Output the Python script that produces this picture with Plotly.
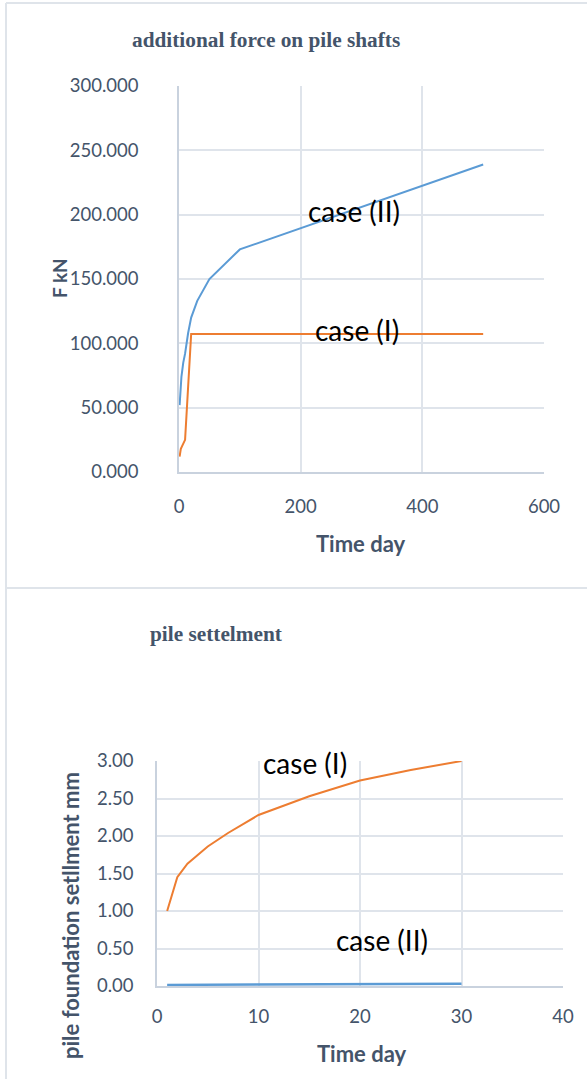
import plotly.graph_objects as go

W, H = 587, 1079

# ---- data: top chart (additional force on pile shafts) ----
force_days_case2 = [1, 2, 4, 7, 10, 15, 20, 30, 50, 100, 500]
force_case2 = [52, 64, 74, 85, 92, 108, 120, 133, 150, 173, 239]
force_days_case1 = [1, 3, 10, 20, 500]
force_case1 = [12, 18, 25, 107.3, 107.3]
force_yticks = [0, 50, 100, 150, 200, 250, 300]
force_xticks = [0, 200, 400, 600]

# ---- data: bottom chart (pile settlement) ----
settle_days_case1 = [1, 2, 3, 5, 7, 10, 15, 20, 25, 30]
settle_case1 = [1.00, 1.45, 1.63, 1.86, 2.04, 2.28, 2.53, 2.74, 2.88, 3.00]
settle_days_case2 = [1, 10, 20, 30]
settle_case2 = [0.015, 0.022, 0.027, 0.03]
settle_yticks = [0, 0.5, 1.0, 1.5, 2.0, 2.5, 3.0]
settle_xticks = [0, 10, 20, 30, 40]

BLUE = "#5b9bd5"
ORANGE = "#ed7d31"
GRID = "#dfe4eb"
TICK = "#44546a"
FONT = "Lato"


def px(x):
    return x / W


def py(y):
    return 1 - y / H


fig = go.Figure()
fig.add_trace(go.Scatter(x=force_days_case2, y=force_case2, mode="lines",
                         line=dict(color=BLUE, width=2), xaxis="x", yaxis="y",
                         showlegend=False, cliponaxis=False))
fig.add_trace(go.Scatter(x=force_days_case1, y=force_case1, mode="lines",
                         line=dict(color=ORANGE, width=2), xaxis="x", yaxis="y",
                         showlegend=False, cliponaxis=False))
fig.add_trace(go.Scatter(x=settle_days_case1, y=settle_case1, mode="lines",
                         line=dict(color=ORANGE, width=2), xaxis="x2", yaxis="y2",
                         showlegend=False, cliponaxis=False))
fig.add_trace(go.Scatter(x=settle_days_case2, y=settle_case2, mode="lines",
                         line=dict(color=BLUE, width=2.5), xaxis="x2", yaxis="y2",
                         showlegend=False, cliponaxis=False))

tickfont = dict(family=FONT, size=18.5, color=TICK)
common_axis = dict(showgrid=True, gridcolor=GRID, gridwidth=2, zeroline=False,
                   showline=True, linecolor="#c9d2de", linewidth=1.5,
                   ticks="", tickfont=tickfont, fixedrange=True, automargin=False)

fig.update_layout(
    width=W, height=H,
    margin=dict(l=0, r=0, t=0, b=0, pad=0),
    paper_bgcolor="white", plot_bgcolor="white",
    xaxis=dict(domain=[px(179), px(544)], range=[0, 600], tickvals=force_xticks,
               anchor="y", ticklabelstandoff=17, **common_axis),
    yaxis=dict(domain=[py(472), py(86)], range=[0, 300], tickvals=force_yticks,
               tickformat=".3f", anchor="x", ticklabelstandoff=35, **common_axis),
    xaxis2=dict(domain=[px(157), px(563)], range=[0, 40], tickvals=settle_xticks,
                anchor="y2", ticklabelstandoff=13, **common_axis),
    yaxis2=dict(domain=[py(986), py(761)], range=[0, 3], tickvals=settle_yticks,
                tickformat=".2f", anchor="x2", ticklabelstandoff=18, **common_axis),
)

ann = []
title_font = dict(family="Liberation Serif", size=21.3, color=TICK)
ann.append(dict(text="<b>additional force on pile shafts</b>", x=px(266), y=py(40),
                xref="paper", yref="paper", showarrow=False, font=title_font,
                xanchor="center", yanchor="middle"))
ann.append(dict(text="<b>pile settelment</b>", x=px(148), y=py(634),
                xref="paper", yref="paper", showarrow=False, font=title_font,
                xanchor="left", yanchor="middle"))
ann.append(dict(text="<b>F kN</b>", x=px(59), y=py(278), xref="paper", yref="paper",
                showarrow=False, font=dict(family=FONT, size=19, color=TICK), textangle=-90,
                xanchor="center", yanchor="middle"))
axis_title_font = dict(family=FONT, size=22, color=TICK)
ann.append(dict(text="<b>Time day</b>", x=px(361), y=py(543), xref="paper", yref="paper",
                showarrow=False, font=axis_title_font, xanchor="center", yanchor="middle"))
ann.append(dict(text="<b>pile foundation setllment mm</b>", x=px(70), y=py(916),
                xref="paper", yref="paper", showarrow=False, font=axis_title_font,
                textangle=-90, xanchor="center", yanchor="middle"))
ann.append(dict(text="<b>Time day</b>", x=px(362), y=py(1053), xref="paper", yref="paper",
                showarrow=False, font=axis_title_font, xanchor="center", yanchor="middle"))

case_font = dict(family=FONT, size=28, color="black")
ann.append(dict(text="case (II)", x=px(354), y=py(211), xref="paper", yref="paper",
                showarrow=False, font=case_font, xanchor="center", yanchor="middle"))
ann.append(dict(text="case (I)", x=px(357), y=py(330), xref="paper", yref="paper",
                showarrow=False, font=case_font, xanchor="center", yanchor="middle"))
ann.append(dict(text="case (I)", x=px(305), y=py(763), xref="paper", yref="paper",
                showarrow=False, font=case_font, xanchor="center", yanchor="middle"))
ann.append(dict(text="case (II)", x=px(382), y=py(940), xref="paper", yref="paper",
                showarrow=False, font=case_font, xanchor="center", yanchor="middle"))
fig.update_layout(annotations=ann)

border = dict(color="#dfe4ea", width=2)
fig.update_layout(shapes=[
    dict(type="line", xref="paper", yref="paper", x0=px(6), x1=px(6), y0=0, y1=py(3), line=border),
    dict(type="line", xref="paper", yref="paper", x0=px(6), x1=1, y0=py(3), y1=py(3), line=border),
    dict(type="line", xref="paper", yref="paper", x0=px(6), x1=1, y0=py(588), y1=py(588), line=border),
])

fig.write_html("out.html", config={"displayModeBar": False},
               post_script="document.body.style.margin='0';document.body.style.overflow='hidden';")
